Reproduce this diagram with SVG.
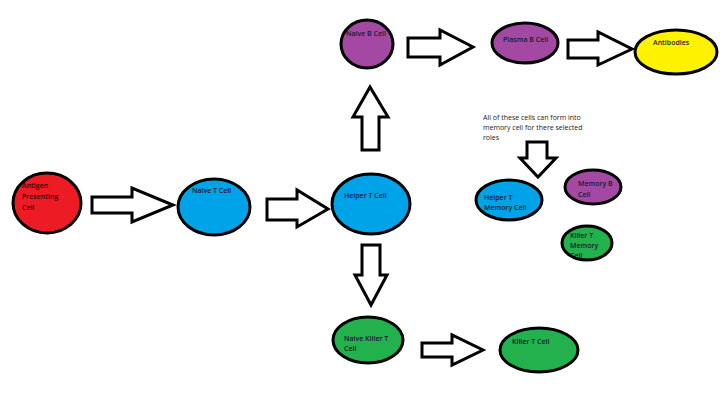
<svg xmlns="http://www.w3.org/2000/svg" width="720" height="405" viewBox="0 0 720 405">
<style>
.cell{stroke:#000;stroke-width:3}
.red{fill:#ed1c24}.blue{fill:#00a2e8}.purple{fill:#a349a4}.yellow{fill:#fff200}.green{fill:#22b14c}
.arr{fill:#fff;stroke:#000;stroke-width:3;stroke-linejoin:miter}
text{font-family:"Open Sans","DejaVu Sans",sans-serif;font-size:7px;font-weight:600;fill:#1a1a2a}
.note{fill:#222;font-weight:400}
</style>
<rect width="720" height="405" fill="#fff"/>
<g id="connectors">
<polygon class="arr" points="92,197 132,197 132,188 173,205 132,222 132,213 92,213"/>
<polygon class="arr" points="267,199 297,199 297,190 328,209 297,227 297,220 267,220"/>
<polygon class="arr" points="362,150 362,117 353,117 370,87 388,117 379,117 379,150"/>
<polygon class="arr" points="408,38 440,38 440,30 473,47 440,65 440,57 408,57"/>
<polygon class="arr" points="568,40 598,40 598,32 632,49 598,65 598,58 568,58"/>
<polygon class="arr" points="527,142 547,142 547,158 556,158 538,177 520,158 527,158"/>
<polygon class="arr" points="362,245 380,245 380,275 387,275 371,305 355,275 362,275"/>
<polygon class="arr" points="422,343 452,343 452,335 483,350 452,365 452,357 422,357"/>
</g>
<g id="apc">
<ellipse class="cell red" cx="47" cy="203" rx="34" ry="30"/>
<text x="22" y="188" style="fill:#3a0000">Antigen</text>
<text x="22" y="199" style="fill:#3a0000">Presenting</text>
<text x="22" y="210" style="fill:#3a0000">Cell</text>
</g>
<g id="naive-t">
<ellipse class="cell blue" cx="214" cy="207" rx="36" ry="28"/>
<text x="192" y="193">Naive T Cell</text>
</g>
<g id="helper-t">
<ellipse class="cell blue" cx="371" cy="204" rx="39" ry="30"/>
<text x="344" y="198">Helper T Cell</text>
</g>
<g id="naive-b">
<ellipse class="cell purple" cx="367" cy="44" rx="26" ry="24"/>
<text x="346" y="36">Naive B Cell</text>
</g>
<g id="plasma-b">
<ellipse class="cell purple" cx="525" cy="43" rx="33" ry="20"/>
<text x="503" y="42">Plasma B Cell</text>
</g>
<g id="antibodies">
<ellipse class="cell yellow" cx="676" cy="52" rx="41" ry="22"/>
<text x="653" y="45">Antibodies</text>
</g>
<g id="note">
<text class="note" x="483" y="120">All of these cells can form into</text>
<text class="note" x="483" y="130">memory cell for there selected</text>
<text class="note" x="483" y="140">roles</text>
</g>
<g id="helper-t-memory">
<ellipse class="cell blue" cx="509" cy="200" rx="33" ry="20"/>
<text x="484" y="200">Helper T</text>
<text x="484" y="210">Memory Cell</text>
</g>
<g id="memory-b">
<ellipse class="cell purple" cx="593" cy="187" rx="28" ry="17"/>
<text x="578" y="186">Memory B</text>
<text x="578" y="197">Cell</text>
</g>
<g id="killer-t-memory">
<ellipse class="cell green" cx="587" cy="243" rx="25" ry="17"/>
<text x="570" y="238">Killer T</text>
<text x="570" y="248">Memory</text>
<text x="570" y="258">Cell</text>
</g>
<g id="naive-killer-t">
<ellipse class="cell green" cx="368" cy="340" rx="35" ry="23"/>
<text x="344" y="341">Naive Killer T</text>
<text x="344" y="351">Cell</text>
</g>
<g id="killer-t">
<ellipse class="cell green" cx="539" cy="350" rx="39" ry="22"/>
<text x="512" y="344">Killer T Cell</text>
</g>
</svg>
